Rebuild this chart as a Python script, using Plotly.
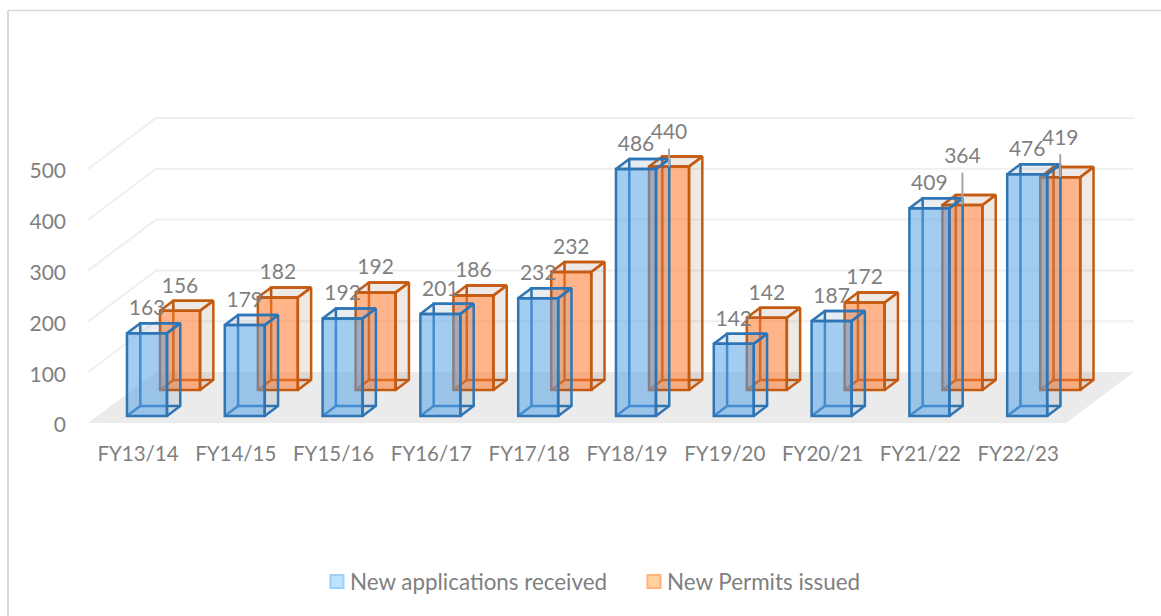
import plotly.graph_objects as go

# ---- data ----
categories = ["FY13/14", "FY14/15", "FY15/16", "FY16/17", "FY17/18",
              "FY18/19", "FY19/20", "FY20/21", "FY21/22", "FY22/23"]
applications = [163, 179, 192, 201, 232, 486, 142, 187, 409, 476]
permits = [156, 182, 192, 186, 232, 440, 142, 172, 364, 419]
permit_label_lift = [0, 0, 0, 0, 0, 18, 0, 0, 47, 28]
y_ticks = [0, 100, 200, 300, 400, 500]

# ---- layout of the fake perspective, in axis units ----
W, H = 1161, 616
PX_X, PX_Y = 97.8, 0.508          # px per category, px per value
X0_PX, Y0_PX = 137, 423           # pixel of category 0 / value 0
ML, MB = 70, 178
BAR_W = 0.409
DX, DY = 0.136, 19.7              # box depth
WALL_DX, WALL_DY = 0.695, 100.4   # floor depth
BLUE_X, BLUE_BASE = 0.102, 13.8
ORANGE_X, ORANGE_BASE = 0.44, 65
LABEL_UP, LEADER_GAP = 46, 29

x_range = [(ML - X0_PX) / PX_X, (W - X0_PX) / PX_X]
y_range = [(Y0_PX - (H - MB)) / PX_Y, Y0_PX / PX_Y]

TEXT = "#7F7F7F"
FONT = "Lato"
FS = 21
EDGE = 2.5

fig = go.Figure()


def joined(polys):
    xs, ys = [], []
    for p in polys:
        xs += [q[0] for q in p] + [None]
        ys += [q[1] for q in p] + [None]
    return xs, ys


def add(trace, n):
    s = "" if n == 1 else str(n)
    trace.update(xaxis="x" + s, yaxis="y" + s, hoverinfo="skip", showlegend=False)
    fig.add_trace(trace)


# floor + wall grid
xl, xr = -0.5, len(categories) - 0.5
fx, fy = joined([[(xl, 0), (xr, 0), (xr + WALL_DX, WALL_DY), (xl + WALL_DX, WALL_DY), (xl, 0)]])
add(go.Scatter(x=fx, y=fy, mode="none", fill="toself", fillcolor="#EBEBEB"), 1)
gx, gy = joined([[(xl, v), (xl + WALL_DX, v + WALL_DY), (xr + WALL_DX, v + WALL_DY)] for v in y_ticks[1:]])
add(go.Scatter(x=gx, y=gy, mode="lines", line=dict(color="#EFEFEF", width=2)), 1)


def box(values, x_off, base, line, front, side, name, back_layer):
    lefts = [i + x_off - BAR_W / 2 for i in range(len(values))]
    # rear edges, seen through the translucent front
    back = []
    for l, v in zip(lefts, values):
        t = base + v
        back.append([(l, base), (l + DX, base + DY), (l + BAR_W + DX, base + DY)])
        back.append([(l + DX, base + DY), (l + DX, t + DY), (l + BAR_W + DX, t + DY)])
    bx, by = joined(back)
    add(go.Scatter(x=bx, y=by, mode="lines", line=dict(color=line, width=EDGE)), back_layer)
    # front faces
    bar = go.Bar(x=[i + x_off for i in range(len(values))], y=values, base=base, width=BAR_W,
                 marker=dict(color=front, line=dict(color=line, width=EDGE)), name=name)
    add(bar, back_layer + 1)
    # side + top faces
    faces = []
    for l, v in zip(lefts, values):
        r, t = l + BAR_W, base + v
        faces.append([(r, base), (r + DX, base + DY), (r + DX, t + DY), (r, t), (r, base)])
        faces.append([(l, t), (r, t), (r + DX, t + DY), (l + DX, t + DY), (l, t)])
    sx, sy = joined(faces)
    add(go.Scatter(x=sx, y=sy, mode="lines", fill="toself", fillcolor=side,
                   line=dict(color=line, width=EDGE)), back_layer + 1)


box(permits, ORANGE_X, ORANGE_BASE, "#C55A11", "rgba(255,120,40,0.55)", "rgba(120,70,40,0.12)", "New Permits issued", 1)
box(applications, BLUE_X, BLUE_BASE, "#2E75B6", "rgba(85,160,230,0.54)", "rgba(70,110,140,0.13)", "New applications received", 3)

# leader lines for labels moved off their bars
leaders = []
for i, (v, lift) in enumerate(zip(permits, permit_label_lift)):
    if lift:
        top = ORANGE_BASE + v
        leaders.append([(i + ORANGE_X, top), (i + ORANGE_X, top + LABEL_UP + lift - LEADER_GAP)])
lx, ly = joined(leaders)
add(go.Scatter(x=lx, y=ly, mode="lines", line=dict(color="#A6A6A6", width=2)), 4)

# data labels
add(go.Scatter(x=[i + BLUE_X for i in range(len(applications))],
               y=[BLUE_BASE + v + LABEL_UP for v in applications],
               text=[str(v) for v in applications], mode="text", textposition="middle center",
               textfont=dict(family=FONT, size=FS, color=TEXT)), 4)
add(go.Scatter(x=[i + ORANGE_X for i in range(len(permits))],
               y=[ORANGE_BASE + v + LABEL_UP + l for v, l in zip(permits, permit_label_lift)],
               text=[str(v) for v in permits], mode="text", textposition="middle center",
               textfont=dict(family=FONT, size=FS, color=TEXT)), 4)

# legend swatches
for name, fill, edge in [("New applications received", "#BDE3FF", "#9DCFF9"),
                         ("New Permits issued", "#FFD39B", "#FFB37A")]:
    fig.add_trace(go.Scatter(x=[None], y=[None], mode="markers", name=name, xaxis="x4", yaxis="y4",
                             marker=dict(symbol="square", size=13, color=fill, line=dict(color=edge, width=2))))

hidden = dict(overlaying="x", matches="x", visible=False)
hiddeny = dict(overlaying="y", matches="y", visible=False)
frame_x = (8 - ML) / (W - ML)
frame_y = 1 - 10.5 / (H - MB)
fig.update_layout(
    width=W, height=H, autosize=False,
    margin=dict(l=ML, r=0, t=0, b=MB, pad=0),
    paper_bgcolor="white", plot_bgcolor="rgba(0,0,0,0)",
    barmode="overlay", hovermode=False,
    font=dict(family=FONT, size=FS, color=TEXT),
    xaxis=dict(range=x_range, tickmode="array", tickvals=list(range(len(categories))), ticktext=categories,
               showgrid=False, zeroline=False, showline=False, ticks="", ticklen=0, fixedrange=True,
               ticklabelstandoff=1, ticklabelshift=1,
               tickfont=dict(family=FONT, size=20.5, color=TEXT)),
    yaxis=dict(range=y_range, tickmode="array", tickvals=y_ticks, showgrid=False, zeroline=False,
               showline=False, ticks="", fixedrange=True, ticklabelstandoff=3, ticklabelshift=2,
               tickfont=dict(family=FONT, size=FS, color=TEXT)),
    xaxis2=hidden, yaxis2=hiddeny, xaxis3=hidden, yaxis3=hiddeny, xaxis4=hidden, yaxis4=hiddeny,
    legend=dict(orientation="h", x=(310 - ML) / (W - ML), y=-(582 - (H - MB)) / (H - MB), xanchor="left", yanchor="middle",
                entrywidth=272, entrywidthmode="pixels",
                font=dict(family=FONT, size=22.4, color=TEXT), itemclick=False, itemdoubleclick=False),
    shapes=[dict(type="line", xref="paper", yref="paper",
                 x0=frame_x, x1=frame_x, y0=-MB / (H - MB), y1=frame_y,
                 line=dict(color="#D9D9D9", width=2)),
            dict(type="line", xref="paper", yref="paper",
                 x0=frame_x, x1=1, y0=frame_y, y1=frame_y,
                 line=dict(color="#D9D9D9", width=1.5))],
)

fig.write_html("out.html", config=dict(displayModeBar=False),
               post_script="document.body.style.margin='0';document.documentElement.style.overflow='hidden';"
                           "document.querySelectorAll('.legendsymbols').forEach(function(e){e.setAttribute('transform','translate(7,0)');});")
